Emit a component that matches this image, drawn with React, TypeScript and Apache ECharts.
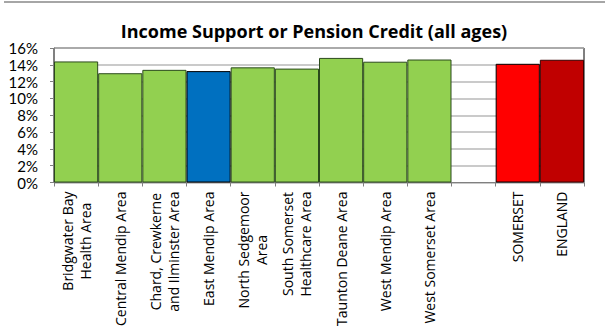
import React, { useEffect, useRef } from "react";
import * as echarts from "echarts";

const titleText = "Income Support or Pension Credit (all ages)";
const categories = [
  "Bridgwater Bay\nHealth Area",
  "Central Mendip Area",
  "Chard, Crewkerne\nand Ilminster Area",
  "East Mendip Area",
  "North Sedgemoor\nArea",
  "South Somerset\nHealthcare Area",
  "Taunton Deane Area",
  "West Mendip Area",
  "West Somerset Area",
  "",
  "SOMERSET",
  "ENGLAND",
];
const values: (number | null)[] = [14.4, 13.0, 13.4, 13.25, 13.7, 13.55, 14.82, 14.37, 14.63, null, 14.12, 14.6];
const barColors = ["#92D050", "#92D050", "#92D050", "#0070C0", "#92D050", "#92D050", "#92D050", "#92D050", "#92D050", "#ffffff", "#FF0000", "#C00000"];
const borderColors = ["#2b4a1c", "#2b4a1c", "#2b4a1c", "#000000", "#2b4a1c", "#2b4a1c", "#2b4a1c", "#2b4a1c", "#2b4a1c", "#000000", "#000000", "#3a0000"];
const yTicks = [0, 2, 4, 6, 8, 10, 12, 14, 16];

const FONT = "'Open Sans', 'Noto Sans', sans-serif";
const YFONT = "Lato, 'Open Sans', sans-serif";

export default function App() {
  const ref = useRef<HTMLDivElement>(null);
  useEffect(() => {
    if (!ref.current) return;
    const chart = echarts.init(ref.current, null, { renderer: "svg" });
    chart.setOption({
      animation: false,
      backgroundColor: "#ffffff",
      title: {
        text: titleText,
        left: 309,
        textAlign: "center",
        top: 17,
        textStyle: { fontFamily: FONT, fontSize: 18, fontWeight: "bold", color: "#000" },
      },
      graphic: [
        {
          type: "line",
          shape: { x1: 4, y1: 2, x2: 605, y2: 2 },
          style: { stroke: "#a6a6a6", lineWidth: 2 },
        },
      ],
      grid: {
        left: 54,
        right: 24,
        top: 48,
        bottom: 145,
        show: true,
        borderColor: "#000",
        borderWidth: 1,
        backgroundColor: "transparent",
      },
      xAxis: {
        type: "category",
        data: categories,
        axisLine: { show: true, lineStyle: { color: "#808080", width: 1 } },
        axisTick: { show: true, length: 4, alignWithLabel: false, lineStyle: { color: "#808080" } },
        axisLabel: {
          interval: 0,
          rotate: 90,
          margin: 9,
          fontFamily: FONT,
          fontSize: 14,
          color: "#000",
          lineHeight: 18,
          formatter: (v: string) => (v ? v.split("\n").map((l) => `{c|${l}}`).join("\n") : ""),
          rich: { c: { align: "center", fontFamily: FONT, fontSize: 14, lineHeight: 18, color: "#000" } },
        },
      },
      yAxis: {
        type: "value",
        min: 0,
        max: 16,
        interval: 2,
        axisLine: { show: true, lineStyle: { color: "#808080", width: 1 } },
        axisTick: { show: true, length: 4, lineStyle: { color: "#808080" } },
        axisLabel: {
          margin: 16,
          fontFamily: YFONT,
          fontSize: 15,
          lineHeight: 15,
          color: "#000",
          formatter: (v: number) => (yTicks.includes(v) ? `${v}%` : ""),
        },
        splitLine: { show: true, lineStyle: { color: "#b8b8b8", width: 1.5 } },
      },
      series: [
        {
          type: "bar",
          barCategoryGap: "0%",
          data: values.map((v, i) => ({
            value: v === null ? "-" : v,
            itemStyle: { color: barColors[i], borderColor: borderColors[i], borderWidth: 1 },
          })),
        },
      ],
    });
    return () => chart.dispose();
  }, []);
  return <div ref={ref} style={{ position: "fixed", left: 0, top: 0, width: 608, height: 329 }} />;
}
